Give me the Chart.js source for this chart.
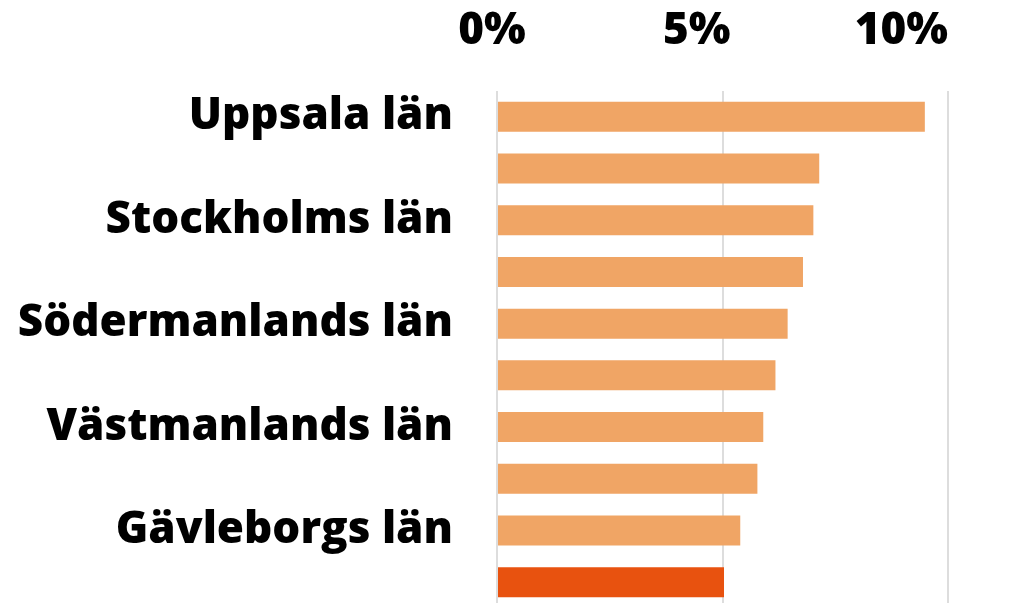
<!DOCTYPE html>
<html>
<head>
<meta charset="utf-8">
<script src="https://cdn.jsdelivr.net/npm/chart.js@4.4.1/dist/chart.umd.min.js"></script>
<style>
  html, body { margin: 0; padding: 0; background: #ffffff; overflow: hidden; }
  #wrap { width: 1017px; height: 608px; }
</style>
</head>
<body>
<div id="wrap"><canvas id="c" width="1017" height="608"></canvas></div>
<script>
const categories = ['Uppsala län', 'Östergötlands län', 'Stockholms län', 'Örebro län', 'Södermanlands län',
                    'Dalarnas län', 'Västmanlands län', 'Gotlands län', 'Gävleborgs län', 'Riket'];
const values = [9.48, 7.14, 7.01, 6.78, 6.44, 6.17, 5.90, 5.77, 5.39, 5.03];
const highlightCategory = 'Riket';
const xTickValues = [0, 5, 10];
const xTickLabels = ['0%', '5%', '10%'];

const LIGHT = '#F0A565';
const DARK = '#E8520F';
const FONT = { family: '"Open Sans", Lato, sans-serif', size: 44, weight: '800' };

new Chart(document.getElementById('c'), {
  type: 'bar',
  data: {
    labels: categories,
    datasets: [{
      data: values,
      backgroundColor: ctx => categories[ctx.dataIndex] === highlightCategory ? DARK : LIGHT,
      borderWidth: 0,
      barPercentage: 0.58,
      categoryPercentage: 1.0
    }]
  },
  options: {
    indexAxis: 'y',
    responsive: false,
    animation: false,
    devicePixelRatio: 1,
    layout: { padding: { top: 0, right: 1, bottom: 0, left: 0 } },
    plugins: { legend: { display: false }, tooltip: { enabled: false } },
    scales: {
      x: {
        position: 'top',
        min: 0, max: 11.5,
        grid: { display: true, color: '#dddddd', lineWidth: 2, drawTicks: false },
        border: { display: false },
        afterBuildTicks: s => { s.ticks = xTickValues.map(v => ({ value: v })); },
        afterFit: s => { s.height = 0; s.paddingLeft = 0; s.paddingRight = 0; },
        ticks: { display: false }
      },
      x2: {
        type: 'linear',
        axis: 'x',
        position: 'top',
        min: 0.122, max: 12.802,
        grid: { display: false, drawTicks: false },
        border: { display: false },
        afterBuildTicks: s => { s.ticks = xTickValues.map(v => ({ value: v })); },
        afterFit: s => { s.height = 91; s.paddingLeft = 0; s.paddingRight = 0; },
        ticks: {
          color: '#000000',
          font: FONT,
          padding: 33,
          maxRotation: 0,
          autoSkip: false,
          callback: v => xTickLabels[xTickValues.indexOf(v)]
        }
      },
      y: {
        grid: { display: false, drawTicks: false },
        border: { display: false },
        afterFit: s => { s.width = 497; s.paddingTop = 0; s.paddingBottom = 0; },
        ticks: {
          color: '#000000',
          font: FONT,
          padding: 44,
          autoSkip: false,
          callback: (v, i) => (i % 2 === 0 ? categories[i] : '')
        }
      }
    }
  }
});
</script>
</body>
</html>
